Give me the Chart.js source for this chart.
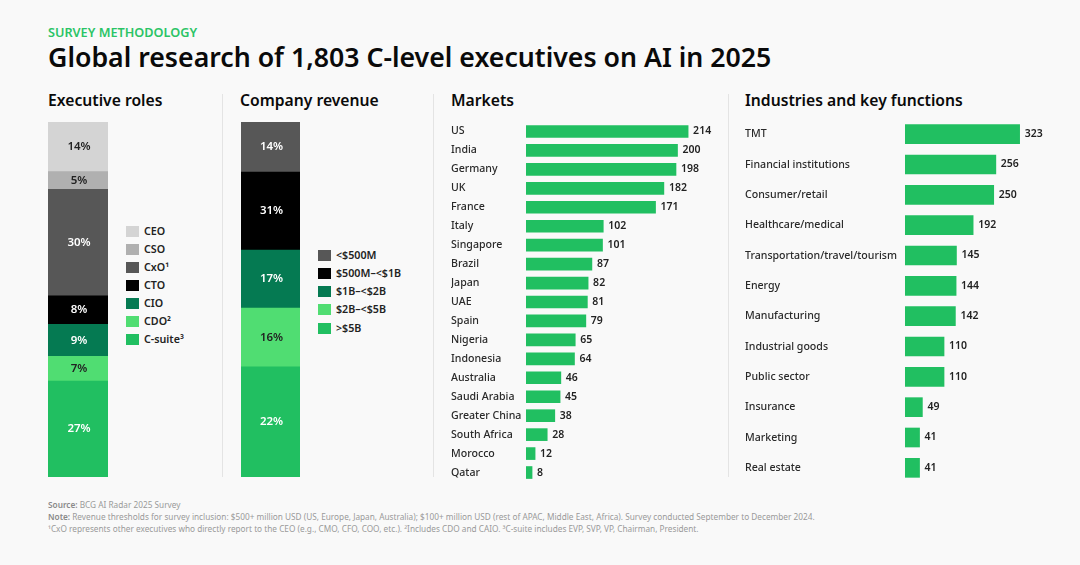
<!DOCTYPE html>
<html>
<head>
<meta charset="utf-8">
<script src="https://cdn.jsdelivr.net/npm/chart.js@4"></script>
<style>
  html, body { margin: 0; padding: 0; }
  body { width: 1080px; height: 565px; background: #f9f9f9; position: relative; overflow: hidden; font-family: "Noto Sans", sans-serif; color: #0a0a0a; }
  .txt { position: absolute; white-space: nowrap; line-height: 1; }
  #kicker { left: 48px; top: 26px; font-size: 12.7px; font-weight: 600; color: #2bc466; }
  #title { left: 48px; top: 44px; font-size: 26.7px; font-weight: 600; }
  .head { top: 93px; font-size: 15.7px; font-weight: 600; }
  .divider { position: absolute; top: 94px; height: 383px; width: 1px; background: #e4e4e4; }
  canvas { position: absolute; }
  .swatch { position: absolute; width: 13px; height: 11px; }
  .legtxt { font-size: 10.7px; font-weight: 600; color: #222; }
  .foot { left: 48px; font-size: 8.25px; color: #9a9a9a; }
  .foot b { font-weight: 600; color: #8a8a8a; }
</style>
</head>
<body>
<div class="txt" id="kicker">SURVEY METHODOLOGY</div>
<div class="txt" id="title">Global research of 1,803 C-level executives on AI in 2025</div>

<div class="txt head" style="left:48px">Executive roles</div>
<div class="txt head" style="left:240px">Company revenue</div>
<div class="txt head" style="left:451px">Markets</div>
<div class="txt head" style="left:745px">Industries and key functions</div>

<div class="divider" style="left:222px"></div>
<div class="divider" style="left:433px"></div>
<div class="divider" style="left:728px"></div>

<canvas id="rolesChart" style="left:48px;top:122px;width:60px;height:355px"></canvas>
<canvas id="revenueChart" style="left:241px;top:122px;width:59px;height:355px"></canvas>
<canvas id="marketsChart" style="left:451px;top:122px;width:275px;height:360px"></canvas>
<canvas id="industriesChart" style="left:745px;top:119px;width:330px;height:364px"></canvas>

<div id="legends"></div>

<div class="txt foot" style="top:501px"><b>Source:</b> BCG AI Radar 2025 Survey</div>
<div class="txt foot" style="top:513px"><b>Note:</b> Revenue thresholds for survey inclusion: $500+ million USD (US, Europe, Japan, Australia); $100+ million USD (rest of APAC, Middle East, Africa). Survey conducted September to December 2024.</div>
<div class="txt foot" style="top:525px">¹CxO represents other executives who directly report to the CEO (e.g., CMO, CFO, COO, etc.). ²Includes CDO and CAIO. ³C-suite includes EVP, SVP, VP, Chairman, President.</div>

<script>
const roleNames = ["CEO", "CSO", "CxO¹", "CTO", "CIO", "CDO²", "C-suite³"];
const roleValues = [14, 5, 30, 8, 9, 7, 27];
const roleColors = ["#d4d4d4", "#b0b0b0", "#575757", "#000000", "#057a52", "#50dd72", "#21bf61"];
const roleTextColors = ["#222", "#222", "#fff", "#fff", "#fff", "#222", "#fff"];

const revenueNames = ["<$500M", "$500M–<$1B", "$1B–<$2B", "$2B–<$5B", ">$5B"];
// the printed labels and the drawn heights disagree in the original (31% and 22% look swapped), keep both as shown
const revenueLabels = [14, 31, 17, 16, 22];
const revenueHeights = [14.1, 22, 16.3, 16.6, 31];
const revenueColors = ["#575757", "#000000", "#057a52", "#50dd72", "#21bf61"];
const revenueTextColors = ["#fff", "#fff", "#fff", "#222", "#fff"];

const marketNames = ["US", "India", "Germany", "UK", "France", "Italy", "Singapore", "Brazil", "Japan", "UAE", "Spain", "Nigeria", "Indonesia", "Australia", "Saudi Arabia", "Greater China", "South Africa", "Morocco", "Qatar"];
const marketValues = [214, 200, 198, 182, 171, 102, 101, 87, 82, 81, 79, 65, 64, 46, 45, 38, 28, 12, 8];

const industryNames = ["TMT", "Financial institutions", "Consumer/retail", "Healthcare/medical", "Transportation/travel/tourism", "Energy", "Manufacturing", "Industrial goods", "Public sector", "Insurance", "Marketing", "Real estate"];
const industryValues = [323, 256, 250, 192, 145, 144, 142, 110, 110, 49, 41, 41];

const GREEN = "#21bf61";
const LABEL_FONT = '"Noto Sans", sans-serif';

Chart.defaults.animation = false;
Chart.defaults.responsive = false;
Chart.defaults.font.family = LABEL_FONT;

// writes the percent in the middle of every stacked segment
const segmentLabels = {
  id: "segmentLabels",
  afterDatasetsDraw(chart, args, opts) {
    const ctx = chart.ctx;
    ctx.save();
    ctx.font = "600 11.5px " + LABEL_FONT;
    ctx.textAlign = "center";
    ctx.textBaseline = "middle";
    chart.data.datasets.forEach(function(ds, i) {
      const bar = chart.getDatasetMeta(i).data[0];
      ctx.fillStyle = opts.colors[i];
      ctx.fillText(opts.labels[i] + "%", bar.x + 1, (bar.y + bar.base) / 2);
    });
    ctx.restore();
  }
};

// writes the value just after the end of every horizontal bar
const endLabels = {
  id: "endLabels",
  afterDatasetsDraw(chart) {
    const ctx = chart.ctx;
    ctx.save();
    ctx.font = "600 10.5px " + LABEL_FONT;
    ctx.fillStyle = "#222";
    ctx.textAlign = "left";
    ctx.textBaseline = "middle";
    chart.getDatasetMeta(0).data.forEach(function(bar, i) {
      ctx.fillText(chart.data.datasets[0].data[i], bar.x + 5, bar.y);
    });
    ctx.restore();
  }
};

function makeStack(id, names, values, labels, colors, textColors) {
  // reversed so the first name ends up on top of the stack
  const datasets = [];
  for (let i = names.length - 1; i >= 0; i--) {
    datasets.push({ label: names[i], data: [values[i]], backgroundColor: colors[i], barPercentage: 1, categoryPercentage: 1 });
  }
  new Chart(document.getElementById(id), {
    type: "bar",
    data: { labels: [""], datasets: datasets },
    options: {
      layout: { padding: 0 },
      scales: {
        x: { stacked: true, display: false },
        y: { stacked: true, display: false, min: 0, max: 100 }
      },
      plugins: {
        legend: { display: false },
        tooltip: { enabled: false },
        segmentLabels: { labels: labels.slice().reverse(), colors: textColors.slice().reverse() }
      }
    },
    plugins: [segmentLabels]
  });
}

function makeBars(id, names, values, axisMax, labelWidth, thickness, labelSize) {
  new Chart(document.getElementById(id), {
    type: "bar",
    data: { labels: names, datasets: [{ data: values, backgroundColor: GREEN, barThickness: thickness }] },
    options: {
      indexAxis: "y",
      layout: { padding: 0 },
      scales: {
        x: { display: false, min: 0, max: axisMax },
        y: {
          grid: { display: false },
          border: { display: false },
          // fixed label column, and no extra room above and below for the first and last label
          afterFit: function(scale) {
            scale.width = labelWidth;
            scale.paddingTop = 0;
            scale.paddingBottom = 0;
          },
          ticks: { autoSkip: false, crossAlign: "far", color: "#2a2a2a", font: { size: labelSize, weight: "500" } }
        }
      },
      plugins: { legend: { display: false }, tooltip: { enabled: false } }
    },
    plugins: [endLabels]
  });
}

function makeLegend(names, colors, left, top, step) {
  const box = document.getElementById("legends");
  names.forEach(function(name, i) {
    const y = top + i * step;
    const sw = document.createElement("div");
    sw.className = "swatch";
    sw.style.cssText = "left:" + left + "px;top:" + (y - 5.5) + "px;background:" + colors[i];
    box.appendChild(sw);
    const t = document.createElement("div");
    t.className = "txt legtxt";
    t.style.cssText = "left:" + (left + 18) + "px;top:" + (y - 5.5) + "px";
    t.textContent = name;
    box.appendChild(t);
  });
}

makeStack("rolesChart", roleNames, roleValues, roleValues, roleColors, roleTextColors);
makeStack("revenueChart", revenueNames, revenueHeights, revenueLabels, revenueColors, revenueTextColors);
makeBars("marketsChart", marketNames, marketValues, 264, 75, 12, 10.6);
makeBars("industriesChart", industryNames, industryValues, 479, 160, 19, 10.6);
makeLegend(roleNames, roleColors, 126, 231, 18.15);
makeLegend(revenueNames, revenueColors, 318, 255, 18.25);
</script>
</body>
</html>
